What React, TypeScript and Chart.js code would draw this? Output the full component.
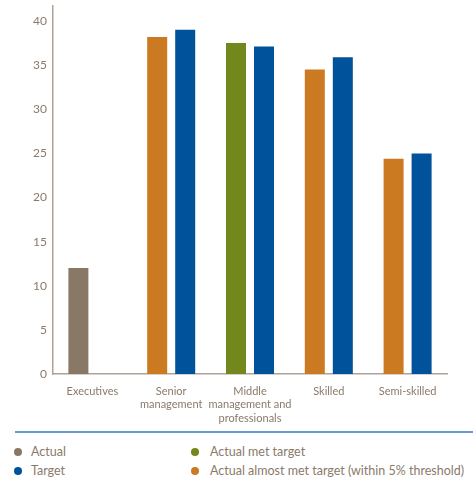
import React, { useEffect, useRef } from "react";
import { Chart, registerables } from "chart.js";

Chart.register(...registerables);

const categories: (string | string[])[] = [
  "Executives",
  ["Senior", "management"],
  ["Middle", "management and", "professionals"],
  "Skilled",
  "Semi-skilled",
];
const actualValues: (number | null)[] = [12.0, 38.2, 37.5, 34.5, 24.4];
const targetValues: (number | null)[] = [null, 39.0, 37.1, 35.9, 25.0];
const actualStatus: string[] = ["actual", "almost", "met", "almost", "almost"];
const yTicks: number[] = [0, 5, 10, 15, 20, 25, 30, 35, 40];

const COLORS: Record<string, string> = {
  actual: "#8a7866",
  met: "#73881c",
  almost: "#cc7a22",
  target: "#00529b",
};
const TEXT = "#8a7a6a";
const AXIS = "#b0a296";
const FONT = "Lato, 'Open Sans', sans-serif";

const legendItems = [
  { label: "Actual", color: COLORS.actual, x: 18, y: 452 },
  { label: "Target", color: COLORS.target, x: 18, y: 471 },
  { label: "Actual met target", color: COLORS.met, x: 195, y: 452 },
  { label: "Actual almost met target (within 5% threshold)", color: COLORS.almost, x: 195, y: 471 },
];

export default function App() {
  const ref = useRef<HTMLCanvasElement | null>(null);
  useEffect(() => {
    if (!ref.current) return;
    const chart = new Chart(ref.current, {
      type: "bar",
      data: {
        labels: categories as any,
        datasets: [
          {
            label: "Actual",
            data: actualValues as any,
            backgroundColor: actualStatus.map((s) => COLORS[s]),
            categoryPercentage: 0.711,
            barPercentage: 0.714,
          },
          {
            label: "Target",
            data: targetValues as any,
            backgroundColor: COLORS.target,
            categoryPercentage: 0.711,
            barPercentage: 0.714,
          },
        ],
      },
      options: {
        responsive: false,
        animation: false,
        layout: { padding: { top: 6, right: 26, left: 0, bottom: 0 } },
        plugins: { legend: { display: false }, tooltip: { enabled: false } },
        scales: {
          x: {
            grid: { display: false, drawTicks: false },
            border: { display: true, color: AXIS, width: 1.5 },
            ticks: {
              color: TEXT,
              font: { family: FONT, size: 11 },
              padding: 11,
              maxRotation: 0,
              autoSkip: false,
            },
            afterFit: (s: any) => {
              s.height = 56;
              s.paddingLeft = 0;
              s.paddingRight = 0;
            },
          },
          y: {
            min: 0,
            max: 41.7,
            grid: { display: false, drawTicks: false },
            border: { display: true, color: AXIS, width: 1.5 },
            ticks: {
              color: TEXT,
              font: { family: FONT, size: 12 },
              padding: 6,
            },
            afterBuildTicks: (s: any) => {
              s.ticks = yTicks.map((v) => ({ value: v }));
            },
            afterFit: (s: any) => {
              s.width = 53;
              s.paddingTop = 0;
              s.paddingBottom = 0;
            },
          },
        },
      },
    });
    return () => chart.destroy();
  }, []);

  return (
    <div style={{ position: "fixed", left: 0, top: 0, width: 473, height: 483, background: "#fff", fontFamily: FONT }}>
      <canvas ref={ref} width={473} height={430} style={{ position: "absolute", left: 0, top: 0 }} />
      <div style={{ position: "absolute", left: 15, top: 431, width: 458, height: 1.5, background: "#6a9ad8" }} />
      {legendItems.map((it) => (
        <div
          key={it.label}
          style={{
            position: "absolute",
            left: it.x - 4,
            top: it.y - 8,
            height: 16,
            lineHeight: "16px",
            display: "flex",
            alignItems: "center",
            whiteSpace: "nowrap",
            color: TEXT,
            fontSize: 12.5,
          }}
        >
          <span style={{ display: "inline-block", width: 8, height: 8, borderRadius: 4, background: it.color, marginRight: it.x > 100 ? 11 : 9 }} />
          <span>{it.label}</span>
        </div>
      ))}
    </div>
  );
}
